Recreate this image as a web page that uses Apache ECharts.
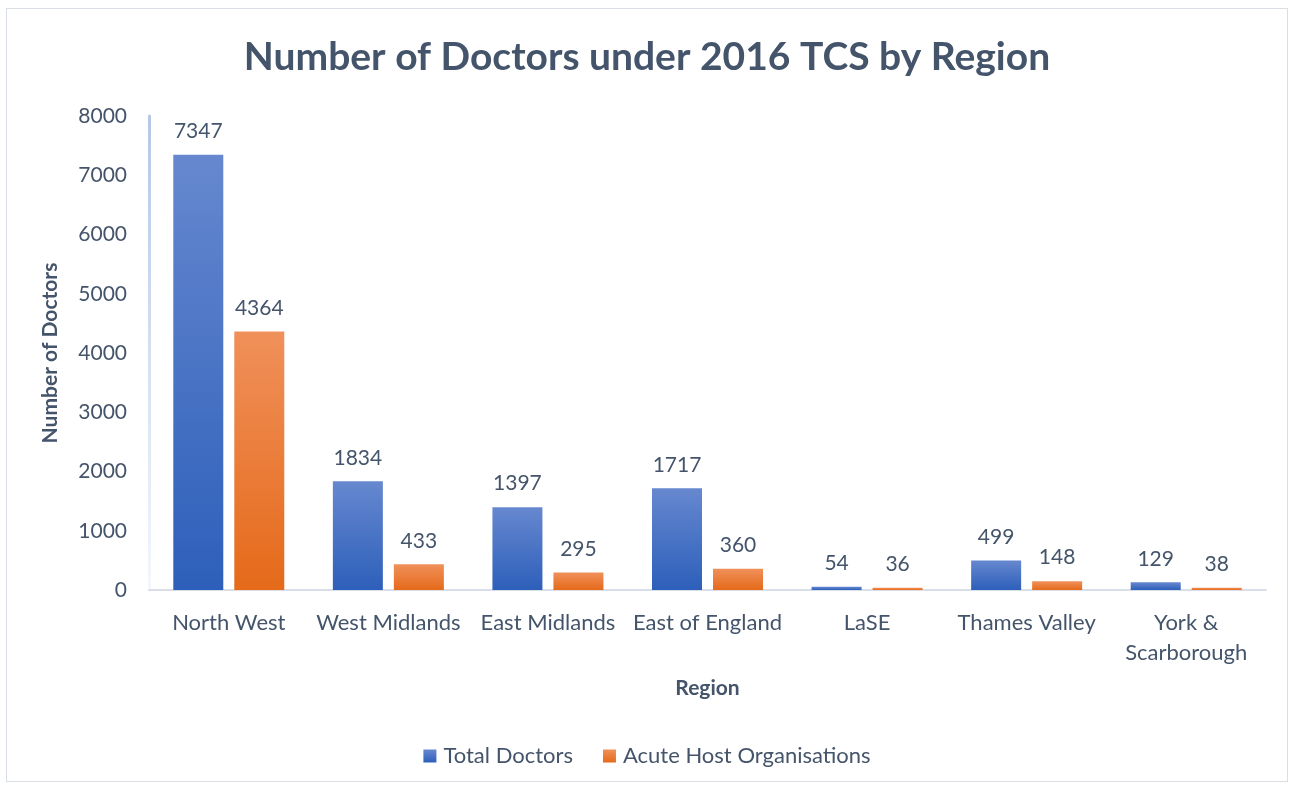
<html lang="en">
<head>
    <meta charset="UTF-8">
    <title>Number of Doctors under 2016 TCS by Region</title>
    <script type="text/javascript" src="https://cdn.jsdelivr.net/npm/echarts@6/dist/echarts.min.js"></script>
</head>
<style>
    html, body { margin: 0; padding: 0; background: #fff; }
    #container {
        position: absolute;
        left: 6px;
        top: 8px;
        width: 1282px;
        height: 774px;
        border: 1px solid #D9DEE4;
        box-sizing: border-box;
    }
</style>
<body>
<div id="container"></div>
<script>
    // data
    var regions = ['North West', 'West Midlands', 'East Midlands', 'East of England', 'LaSE', 'Thames Valley', 'York &\nScarborough'];
    var totalDoctors = [7347, 1834, 1397, 1717, 54, 499, 129];
    var acuteHost = [4364, 433, 295, 360, 36, 148, 38];
    var seriesNames = ['Total Doctors', 'Acute Host Organisations'];

    var textColor = '#44546A';
    var font = 'Lato';

    function grad(top, bottom) {
        return new echarts.graphic.LinearGradient(0, 0, 0, 1, [
            { offset: 0, color: top },
            { offset: 1, color: bottom }
        ]);
    }

    var chart = echarts.init(document.getElementById('container'));

    var labelStyle = {
        show: true,
        position: 'top',
        distance: 13,
        color: textColor,
        fontSize: 21,
        fontFamily: font
    };

    var option = {
        textStyle: { fontFamily: font },
        title: {
            text: 'Number of Doctors under 2016 TCS by Region',
            left: 'center',
            top: 24,
            textStyle: {
                color: textColor,
                fontSize: 39,
                fontWeight: 'bold',
                fontFamily: font
            }
        },
        legend: {
            bottom: 9,
            left: 'center',
            itemWidth: 13,
            itemHeight: 13,
            itemGap: 30,
            icon: 'rect',
            textStyle: { color: textColor, fontSize: 22, fontFamily: font, padding: [0, 0, 0, 2] },
            data: seriesNames
        },
        grid: {
            left: 142,
            right: 21,
            top: 107,
            bottom: 191
        },
        xAxis: {
            type: 'category',
            data: regions,
            name: 'Region',
            nameLocation: 'middle',
            nameGap: 88,
            nameTextStyle: { color: textColor, fontSize: 21, fontWeight: 'bold', fontFamily: font },
            axisLine: { lineStyle: { color: '#D9DEE8', width: 2 } },
            axisTick: { show: false },
            axisLabel: { color: textColor, fontSize: 22, fontFamily: font, margin: 18, lineHeight: 30, interval: 0 }
        },
        yAxis: {
            type: 'value',
            min: 0,
            max: 8000,
            interval: 1000,
            name: 'Number of Doctors',
            nameLocation: 'middle',
            nameGap: 88,
            nameTextStyle: { color: textColor, fontSize: 21, fontWeight: 'bold', fontFamily: font },
            axisLine: {
                show: true,
                lineStyle: { color: grad('#B4C7E7', '#F4F7FC'), width: 3 }
            },
            axisTick: { show: false },
            splitLine: { show: false },
            axisLabel: {
                color: textColor,
                fontSize: 21,
                fontFamily: font,
                margin: 22,
                formatter: function (v) { return String(v); }
            }
        },
        series: [
            {
                name: seriesNames[0],
                type: 'bar',
                data: totalDoctors,
                barWidth: 50,
                barGap: '22%',
                itemStyle: { color: grad('#6688CF', '#2D5FBA') },
                label: labelStyle
            },
            {
                name: seriesNames[1],
                type: 'bar',
                data: acuteHost,
                barWidth: 50,
                itemStyle: { color: grad('#F0905A', '#E56A1A') },
                label: labelStyle
            }
        ]
    };

    chart.setOption(option);
</script>
</body>
</html>
